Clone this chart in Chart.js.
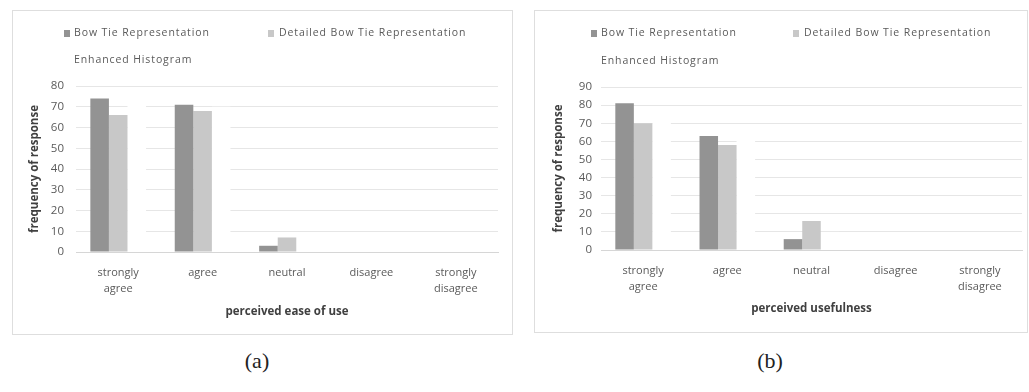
<!DOCTYPE html>
<html><head><meta charset="utf-8">
<script src="https://cdn.jsdelivr.net/npm/chart.js@4.4.1/dist/chart.umd.min.js"></script>
<style>
html,body{margin:0;padding:0;background:#fff;width:1029px;height:392px;overflow:hidden;}
.panel{position:absolute;border:1px solid #dedede;}
#pa{left:12px;top:10px;width:499px;height:323px;}
#pb{left:534px;top:10px;width:492px;height:321px;}
.panel canvas{position:absolute;left:0;top:0;}
.cap{position:absolute;top:348px;font-family:"Liberation Serif",serif;font-size:22px;color:#222;transform:translateX(-50%);}
</style></head>
<body>
<div class="panel" id="pa"><canvas id="ca" width="499" height="323"></canvas></div>
<div class="panel" id="pb"><canvas id="cb" width="492" height="321"></canvas></div>
<div class="cap" style="left:257px">(a)</div>
<div class="cap" style="left:770px">(b)</div>
<script>
// ---- data ----
const categories = [["strongly","agree"], "agree", "neutral", "disagree", ["strongly","disagree"]];
const seriesNames = ["Bow Tie Representation", "Detailed Bow Tie Representation", "Enhanced Histogram"];
const easeBowTie     = [74, 71, 3, 0, 0];
const easeDetailed   = [66, 68, 7, 0, 0];
const easeEnhanced   = [72, 70, 5, 0, 0];
const usefulBowTie   = [81, 63, 6, 0, 0];
const usefulDetailed = [70, 58, 16, 0, 0];
const usefulEnhanced = [76, 62, 10, 0, 0];
const easeTitle = "perceived ease of use";
const usefulTitle = "perceived usefulness";
const yTitle = "frequency of response";
const easeMax = 80, usefulMax = 90, yStep = 10;

const seriesColors = ["#939393", "#c8c8c8", "#ffffff"];
const FONT = "'Open Sans', 'Liberation Sans', sans-serif";

const boxLegend = {
  id: 'boxLegend',
  afterDraw(chart, args, opts) {
    const ctx = chart.ctx;
    ctx.save();
    ctx.font = "10.5px " + FONT;
    ctx.letterSpacing = "0.9px";
    ctx.textBaseline = 'middle';
    opts.items.forEach((it, i) => {
      const ds = chart.data.datasets[i];
      ctx.fillStyle = ds.backgroundColor;
      ctx.fillRect(it.mx, it.y - 3, 6, 7);
      ctx.fillStyle = '#5a5a5a';
      ctx.fillText(ds.label, it.tx, it.y);
    });
    ctx.restore();
  }
};

function makeChart(id, vals, xTitle, yMax, geo) {
  return new Chart(document.getElementById(id), {
    type: 'bar',
    data: {
      labels: categories,
      datasets: seriesNames.map((n, i) => ({
        label: n, data: vals[i], backgroundColor: seriesColors[i],
        borderWidth: 0, categoryPercentage: 0.66, barPercentage: 1.0
      }))
    },
    options: {
      responsive: false, animation: false,
      layout: { padding: { top: geo.top, right: geo.right, left: 0, bottom: 0 } },
      plugins: { legend: { display: false }, tooltip: { enabled: false },
        boxLegend: { items: geo.legend } },
      scales: {
        x: {
          grid: { display: false, drawTicks: false },
          border: { display: true, color: '#d6d6d6' },
          ticks: { color: '#5a5a5a', padding: 13, maxRotation: 0, autoSkip: false,
            font: { family: FONT, size: 11, lineHeight: 1.45 } },
          title: { display: true, text: xTitle, color: '#404040',
            font: { family: FONT, size: 11.5, weight: 'bold' }, padding: { top: 0, bottom: geo.xtp } },
          afterFit(s) { s.height = geo.xh; }
        },
        y: {
          min: 0, max: yMax,
          grid: { color: '#e6e6e6', drawTicks: false },
          border: { display: false },
          ticks: { stepSize: yStep, color: '#5a5a5a', padding: geo.ytp,
            font: { family: FONT, size: 11.5 } },
          title: { display: true, text: yTitle, color: '#404040',
            font: { family: FONT, size: 11.5, weight: 'bold' }, padding: { top: geo.ytt, bottom: 0 } },
          afterFit(s) { s.width = geo.yw; }
        }
      }
    },
    plugins: [boxLegend]
  });
}

makeChart('ca', [easeBowTie, easeDetailed, easeEnhanced], easeTitle, easeMax, {
  top: 75, right: 14, xh: 82, xtp: 15, yw: 63, ytp: 12, ytt: 15,
  legend: [{ mx: 51, tx: 61, y: 22 }, { mx: 255, tx: 266, y: 22 }, { mx: 51, tx: 61, y: 49 }]
});
makeChart('cb', [usefulBowTie, usefulDetailed, usefulEnhanced], usefulTitle, usefulMax, {
  top: 76, right: 5, xh: 82, xtp: 16, yw: 66, ytp: 9, ytt: 17,
  legend: [{ mx: 56, tx: 66, y: 22 }, { mx: 258, tx: 269, y: 22 }, { mx: 56, tx: 66, y: 50 }]
});
</script>
</body></html>
